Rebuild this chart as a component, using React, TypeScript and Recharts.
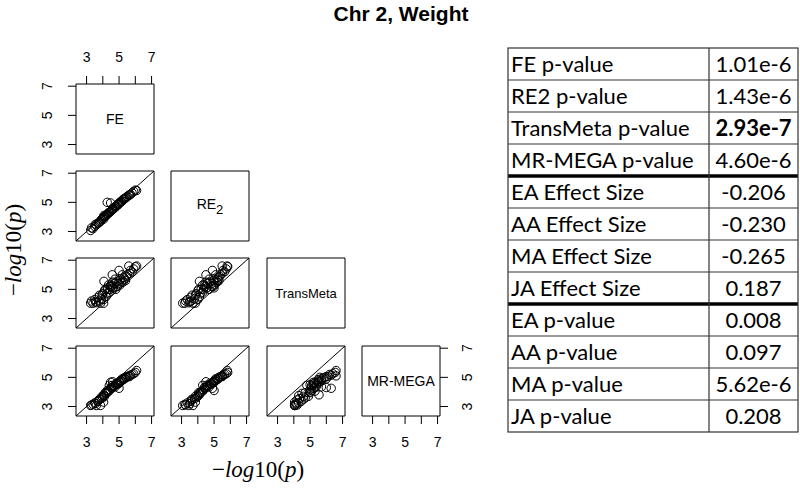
import React from "react";
import { ScatterChart, Scatter, XAxis, YAxis, ReferenceArea, ReferenceLine } from "recharts";

// -log10(p) of the SNPs in the region, one array per method
const feLogP = [3.25, 3.4, 3.6, 3.86, 4.05, 3.5, 3.7, 3.8, 3.9, 4.0, 4.1, 4.07, 4.2, 4.27, 4.3, 4.4, 4.48, 4.5, 4.58, 4.6, 4.7, 4.8, 4.85, 4.9, 5.0, 5.05, 5.1, 5.2, 5.25, 5.3, 5.4, 5.5, 5.6, 5.7, 5.8, 5.9, 6.0, 6.08, 5.0, 4.6, 3.3, 3.55, 4.15, 4.35, 4.75, 4.45, 4.55, 4.65, 4.95, 5.15, 5.35, 3.95, 4.25, 5.45, 5.65, 4.05, 3.75];
const re2LogP = [3.07, 3.2, 3.45, 3.7, 3.85, 3.35, 3.56, 3.65, 3.8, 3.9, 4.0, 4.1, 4.1, 5.0, 4.2, 4.3, 4.96, 4.4, 4.5, 4.55, 4.6, 4.7, 4.75, 4.85, 4.95, 5.0, 5.05, 5.1, 5.2, 5.25, 5.3, 5.4, 5.5, 5.55, 5.65, 5.75, 5.84, 5.81, 4.9, 4.5, 3.25, 3.5, 4.05, 4.3, 4.7, 4.35, 4.45, 4.55, 4.85, 5.05, 5.25, 3.85, 4.15, 5.35, 5.5, 4.0, 3.6];
const transMetaLogP = [4.05, 4.05, 4.08, 4.05, 4.05, 4.3, 4.45, 4.6, 4.35, 4.7, 4.9, 5.55, 4.5, 5.1, 5.0, 4.8, 5.2, 5.3, 6.0, 5.1, 5.4, 5.0, 5.5, 5.2, 5.6, 5.3, 5.7, 6.0, 5.5, 5.8, 5.6, 6.0, 6.6, 6.3, 6.2, 6.4, 6.55, 6.6, 6.3, 5.5, 4.2, 4.15, 5.0, 5.3, 5.7, 5.0, 5.2, 5.1, 5.4, 5.5, 5.7, 4.6, 4.7, 5.9, 6.1, 4.3, 4.2];
const mrMegaLogP = [3.07, 3.15, 3.07, 3.07, 3.3, 3.25, 3.35, 3.5, 3.55, 3.6, 3.7, 3.8, 3.9, 4.1, 4.0, 4.45, 4.66, 4.3, 4.3, 4.45, 4.4, 4.5, 4.6, 4.55, 4.7, 4.65, 4.8, 4.9, 4.85, 4.95, 5.0, 5.05, 5.1, 5.15, 5.2, 5.25, 5.34, 5.47, 4.25, 4.7, 3.1, 3.2, 3.95, 4.05, 4.35, 4.15, 4.25, 4.35, 4.55, 4.75, 4.9, 3.7, 3.95, 5.0, 5.05, 3.75, 3.45];

const methods = ["FE", "RE2", "TransMeta", "MR-MEGA"];
const axisTicks = [3, 4, 5, 6, 7];
const labelledTicks = [3, 5, 7];

const tableLabels = [
  "FE p-value", "RE2 p-value", "TransMeta p-value", "MR-MEGA p-value",
  "EA Effect Size", "AA Effect Size", "MA Effect Size", "JA Effect Size",
  "EA p-value", "AA p-value", "MA p-value", "JA p-value",
];
const tableValues = [
  "1.01e-6", "1.43e-6", "2.93e-7", "4.60e-6",
  "-0.206", "-0.230", "-0.265", "0.187",
  "0.008", "0.097", "5.62e-6", "0.208",
];
const boldValue = "2.93e-7";

const series = [feLogP, re2LogP, transMetaLogP, mrMegaLogP];

const LO = 2.35;
const HI = 7.15;
const PW = 78;
const PH = 70;
const PAD = 40;
const colLeft = [76, 171, 267, 362];
const rowTop = [84, 171, 258, 346];
const sans = "'Liberation Sans', Arial, sans-serif";

function XTick({ x, y, payload, top }: any) {
  if (!labelledTicks.includes(payload.value)) return null;
  return (
    <text x={x} y={top ? y - 12 : y + 21} textAnchor="middle" fontSize={14} fontFamily={sans} fill="#000">
      {payload.value}
    </text>
  );
}

function YTick({ x, y, payload, right }: any) {
  if (!labelledTicks.includes(payload.value)) return null;
  const bx = right ? x + 22 : x - 14;
  return (
    <text transform={`translate(${bx},${y}) rotate(-90)`} textAnchor="middle" fontSize={14} fontFamily={sans} fill="#000">
      {payload.value}
    </text>
  );
}

function DiagLabel({ viewBox, name }: any) {
  const cx = viewBox.x + viewBox.width / 2;
  const cy = viewBox.y + viewBox.height / 2;
  if (name === "RE2") {
    return (
      <text x={cx} y={cy + 3} textAnchor="middle" fontSize={14} fontFamily={sans} fill="#000">
        RE<tspan fontSize={13} dy={5}>2</tspan>
      </text>
    );
  }
  return (
    <text x={cx} y={cy + 5} textAnchor="middle" fontSize={name === "TransMeta" ? 13 : 14} fontFamily={sans} fill="#000">
      {name}
    </text>
  );
}

function Panel({ r, c }: { r: number; c: number }) {
  const top = r === 0;
  const right = c === 3;
  const showX = (r === 0 && c === 0) || r === 3;
  const showY = c === 0 || (r === 3 && c === 3);
  const data = r > c ? series[c].map((v, i) => ({ x: v, y: series[r][i] })) : [];
  return (
    <div style={{ position: "absolute", left: colLeft[c] - PAD, top: rowTop[r] - PAD }}>
      <ScatterChart
        width={PW + 2 * PAD}
        height={PH + 2 * PAD}
        margin={{ top: top ? 0 : PAD, bottom: top ? PAD : 0, left: right ? PAD : 0, right: right ? 0 : PAD }}
      >
        <XAxis
          type="number"
          dataKey="x"
          domain={[LO, HI]}
          ticks={axisTicks}
          allowDataOverflow
          orientation={top ? "top" : "bottom"}
          height={PAD}
          axisLine={false}
          tickSize={8}
          tickLine={showX ? { stroke: "#000" } : false}
          tick={showX ? (p: any) => <XTick {...p} top={top} /> : false}
        />
        <YAxis
          type="number"
          dataKey="y"
          domain={[LO, HI]}
          ticks={axisTicks}
          allowDataOverflow
          orientation={right ? "right" : "left"}
          width={PAD}
          axisLine={false}
          tickSize={8}
          tickLine={showY ? { stroke: "#000" } : false}
          tick={showY ? (p: any) => <YTick {...p} right={right} /> : false}
        />
        {r > c && (
          <ReferenceLine
            segment={[{ x: LO, y: LO }, { x: HI, y: HI }]}
            stroke="#000"
            strokeWidth={1}
            ifOverflow="visible"
          />
        )}
        {r > c && (
          <Scatter
            data={data}
            isAnimationActive={false}
            shape={(p: any) => <circle cx={p.cx} cy={p.cy} r={4.2} fill="none" stroke="#000" strokeWidth={1} />}
          />
        )}
        <ReferenceArea
          x1={LO}
          x2={HI}
          y1={LO}
          y2={HI}
          fill="none"
          stroke="#000"
          strokeWidth={1}
          ifOverflow="visible"
          label={r === c ? (p: any) => <DiagLabel viewBox={p.viewBox} name={methods[c]} /> : undefined}
        />
      </ScatterChart>
    </div>
  );
}

function LogTitle({ x, y, rotate }: { x: number; y: number; rotate?: boolean }) {
  return (
    <text
      transform={rotate ? `translate(${x},${y}) rotate(-90)` : `translate(${x},${y})`}
      textAnchor="middle"
      fontSize={23}
      fontFamily="'Liberation Serif', 'Times New Roman', serif"
      fill="#000"
    >
      −<tspan fontStyle="italic">log</tspan>10(<tspan fontStyle="italic">p</tspan>)
    </text>
  );
}

export default function App() {
  const panels: { r: number; c: number }[] = [];
  for (let r = 0; r < 4; r++) for (let c = 0; c <= r; c++) panels.push({ r, c });
  const tL = 508, tM = 709, tR = 798, tTop = 48, rowH = 32;
  return (
    <div style={{ position: "absolute", left: 0, top: 0, width: 800, height: 490, background: "#fff", overflow: "hidden" }}>
      {panels.map((p) => (
        <Panel key={`${p.r}-${p.c}`} r={p.r} c={p.c} />
      ))}
      <svg width={800} height={490} style={{ position: "absolute", left: 0, top: 0, pointerEvents: "none" }}>
        <text x={401} y={21} textAnchor="middle" fontSize={21} fontWeight="bold" fontFamily={sans} fill="#000">
          Chr 2, Weight
        </text>
        <LogTitle x={258} y={477} />
        <LogTitle x={21} y={250} rotate />
        {tableLabels.map((lab, i) => (
          <g key={lab}>
            <text x={tL + 3} y={tTop + i * rowH + 24} fontSize={22} fontFamily="Lato, sans-serif" fill="#000">
              {lab}
            </text>
            <text
              x={(tM + tR) / 2}
              y={tTop + i * rowH + 24}
              textAnchor="middle"
              fontSize={22}
              fontWeight={tableValues[i] === boldValue ? "bold" : "normal"}
              fontFamily="Lato, sans-serif"
              fill="#000"
            >
              {tableValues[i]}
            </text>
          </g>
        ))}
        {tableLabels.map((lab, i) =>
          i === 0 ? null : (
            <line
              key={`h${lab}`}
              x1={tL}
              x2={tR}
              y1={tTop + i * rowH}
              y2={tTop + i * rowH}
              stroke={i % 4 === 0 ? "#000" : "#333"}
              strokeWidth={i % 4 === 0 ? 3.5 : 1.2}
            />
          )
        )}
        <rect x={tL} y={tTop} width={tR - tL} height={rowH * tableLabels.length} fill="none" stroke="#333" strokeWidth={1.2} />
        <line x1={tM} x2={tM} y1={tTop} y2={tTop + rowH * tableLabels.length} stroke="#333" strokeWidth={1.2} />
      </svg>
    </div>
  );
}
